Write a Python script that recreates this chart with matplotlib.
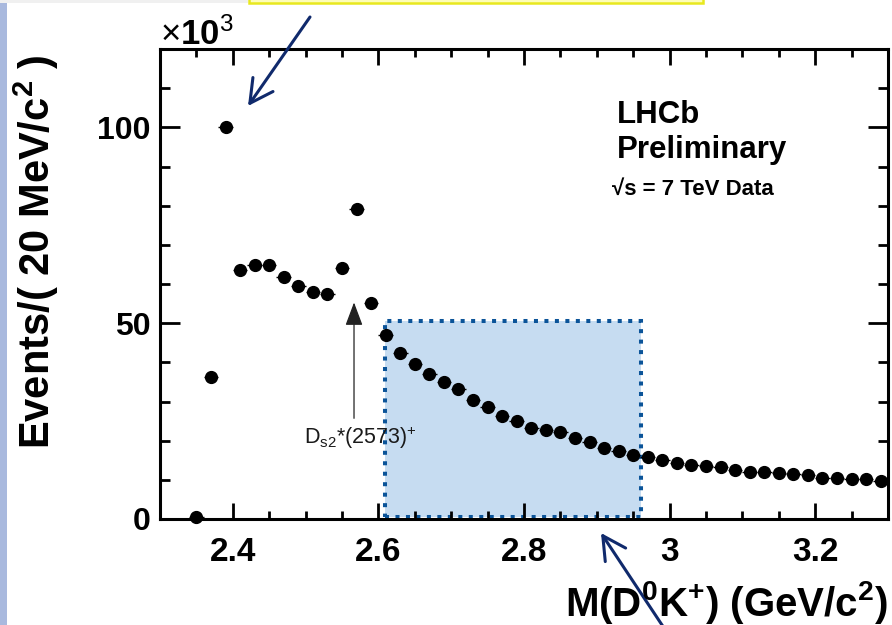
import matplotlib as mpl
mpl.use('Agg')
import matplotlib.pyplot as plt
from matplotlib.patches import Rectangle, FancyArrowPatch
from matplotlib.ticker import MultipleLocator

plt.rcParams['font.family'] = ['Liberation Sans', 'DejaVu Sans']
plt.rcParams['mathtext.fontset'] = 'custom'
plt.rcParams['mathtext.rm'] = 'Liberation Sans'
plt.rcParams['mathtext.bf'] = 'Liberation Sans:bold'
plt.rcParams['mathtext.it'] = 'Liberation Sans:italic'

# D0 K+ invariant mass, 20 MeV bins (bin centres, GeV/c^2)
mass = [2.35, 2.37, 2.39, 2.41, 2.43, 2.45, 2.47, 2.49, 2.51, 2.53,
        2.55, 2.57, 2.59, 2.61, 2.63, 2.65, 2.67, 2.69, 2.71, 2.73,
        2.75, 2.77, 2.79, 2.81, 2.83, 2.85, 2.87, 2.89, 2.91, 2.93,
        2.95, 2.97, 2.99, 3.01, 3.03, 3.05, 3.07, 3.09, 3.11, 3.13,
        3.15, 3.17, 3.19, 3.21, 3.23, 3.25, 3.27, 3.29]
# events per bin, in units of 10^3
events = [0.6, 36.2, 100.0, 63.6, 64.9, 64.9, 61.8, 59.5, 57.9, 57.5,
          64.1, 79.2, 55.1, 47.0, 42.3, 39.5, 36.9, 35.1, 33.1, 30.3,
          28.5, 26.4, 24.9, 23.3, 22.8, 22.3, 20.8, 19.7, 18.2, 17.4,
          16.4, 15.9, 15.1, 14.4, 13.8, 13.6, 13.3, 12.6, 12.1, 12.1,
          11.8, 11.5, 11.3, 10.5, 10.5, 10.3, 10.3, 9.7]
half_bin = 0.01

# highlighted mass window and the D_s2*(2573) marker
window_lo, window_hi = 2.609, 2.961
window_top = 50.6
ds2_mass = 2.5665
ds2_arrow = (25.0, 56.0)

W, H = 892, 625
fig = plt.figure(figsize=(W / 100, H / 100), dpi=100)
ax = fig.add_axes([160 / W, 1 - 519 / H, 728 / W, 470 / H])

ax.add_patch(Rectangle((window_lo, 0.5), window_hi - window_lo, window_top - 0.5,
                       facecolor='#c6dcf1', edgecolor='#0b5499', linewidth=2.9,
                       linestyle=(0, (1, 1.6)), capstyle='butt', zorder=1))

ax.errorbar(mass, events, xerr=half_bin, fmt='o', color='black', ms=8.5,
            elinewidth=1.0, capsize=0, zorder=3, clip_on=False)

ax.annotate('', xy=(ds2_mass, ds2_arrow[1]), xytext=(ds2_mass, ds2_arrow[0]),
            arrowprops=dict(arrowstyle='-|>,head_length=0.8,head_width=0.3',
                            color='#222222', lw=0.9, mutation_scale=18))
ax.text(ds2_mass + 0.008, 20.8, r'D$_{\mathrm{s2}}$*(2573)$^{+}$', ha='center',
        va='center', fontsize=15.5, color='#1a1a1a')

ax.set_xlim(2.3, 3.3)
ax.set_ylim(0, 120)
ax.xaxis.set_major_locator(MultipleLocator(0.2))
ax.xaxis.set_minor_locator(MultipleLocator(0.05))
ax.yaxis.set_major_locator(MultipleLocator(50))
ax.yaxis.set_minor_locator(MultipleLocator(10))
ax.set_xticks([2.4, 2.6, 2.8, 3.0, 3.2])
ax.set_xticklabels(['2.4', '2.6', '2.8', '3', '3.2'])

for s in ax.spines.values():
    s.set_linewidth(2.2)
ax.tick_params(which='both', direction='in', top=True, right=True, width=2.0)
ax.tick_params(axis='x', which='major', length=11.5, pad=13, labelsize=24)
ax.tick_params(axis='x', which='minor', length=5.8)
ax.tick_params(axis='y', which='major', length=14.4, pad=7, labelsize=23)
ax.tick_params(axis='y', which='minor', length=7)
for lab in ax.get_xticklabels() + ax.get_yticklabels():
    lab.set_fontweight('bold')

fig.text(160 / W, 1 - 45 / H, r'$\times$10$^{3}$', fontsize=25,
         fontweight='bold', ha='left', va='baseline')

fig.text(36 / W, 1 - 54 / H, r'$\mathbf{Events/(\ 20\ MeV/c^{2}\ )}$',
         rotation=90, fontsize=30, ha='center', va='top')
fig.text(888 / W, 1 - 602 / H, r'$\mathbf{M(D^{0}K^{+})\ (GeV/c^{2})}$',
         fontsize=29, ha='right', va='center')

fig.text(617 / W, 1 - 123 / H, 'LHCb', fontsize=22.5, fontweight='bold',
         ha='left', va='baseline')
fig.text(617 / W, 1 - 158 / H, 'Preliminary', fontsize=22.5, fontweight='bold',
         ha='left', va='baseline')
fig.text(612 / W, 1 - 195 / H, '\u221as = 7 TeV Data', fontsize=16,
         fontweight='bold', ha='left', va='baseline')

# slide decorations: side strip, header box and pointer arrows
fig.add_artist(Rectangle((0, 0), 7 / W, 1, transform=fig.transFigure,
                         facecolor='#a9b9de', edgecolor='none'))
fig.add_artist(Rectangle((0, 1 - 3 / H), 248 / W, 3 / H, transform=fig.transFigure,
                         facecolor='#f0f0f0', edgecolor='none'))
fig.add_artist(Rectangle((249 / W, 1 - 3 / H), 454 / W, 0.05, transform=fig.transFigure,
                         facecolor='#fdfdb8', edgecolor='#e8e81e', linewidth=1.8))
for tail, head in [((310, 17), (248, 106)), ((664, 628), (601, 533))]:
    fig.add_artist(FancyArrowPatch((tail[0] / W, 1 - tail[1] / H),
                                   (head[0] / W, 1 - head[1] / H),
                                   transform=fig.transFigure,
                                   arrowstyle='->,head_length=0.75,head_width=0.4',
                                   mutation_scale=22, color='#102a6c', lw=2.2,
                                   shrinkA=0, shrinkB=0))

fig.savefig('out.png', dpi=100)
